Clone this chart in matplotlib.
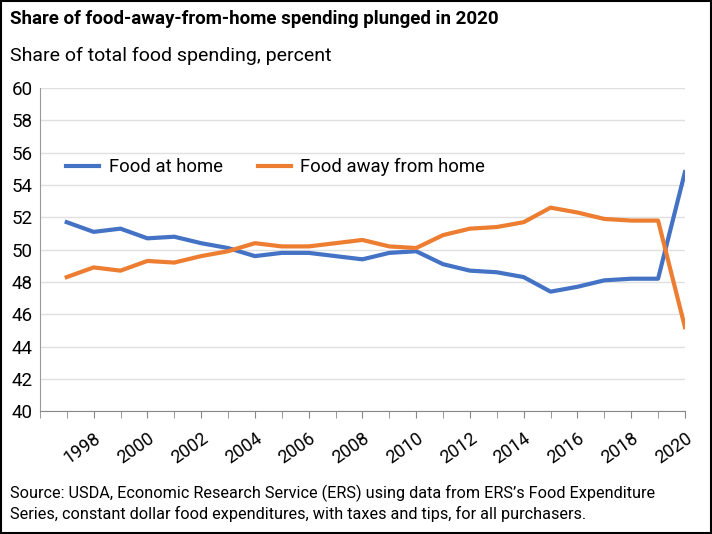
import matplotlib
matplotlib.use("Agg")
import matplotlib.pyplot as plt
from matplotlib.patches import Rectangle

# Data
years = list(range(1997, 2021))
food_at_home = [51.7, 51.1, 51.3, 50.7, 50.8, 50.4, 50.1, 49.6, 49.8, 49.8, 49.6, 49.4,
                49.8, 49.9, 49.1, 48.7, 48.6, 48.3, 47.4, 47.7, 48.1, 48.2, 48.2, 54.8]
food_away = [48.3, 48.9, 48.7, 49.3, 49.2, 49.6, 49.9, 50.4, 50.2, 50.2, 50.4, 50.6,
             50.2, 50.1, 50.9, 51.3, 51.4, 51.7, 52.6, 52.3, 51.9, 51.8, 51.8, 45.2]
tick_years = list(range(1998, 2021, 2))

plt.rcParams['font.family'] = ['Roboto', 'DejaVu Sans']

fig = plt.figure(figsize=(7.12, 5.34), dpi=100)
ax = fig.add_axes([0.056, 0.230, 0.906, 0.605])

ax.plot(years, food_at_home, color='#4472C4', lw=3, label='Food at home')
ax.plot(years, food_away, color='#ED7D31', lw=3, label='Food away from home')

ax.set_xlim(1996, 2020)
ax.set_ylim(40, 60)
ax.set_yticks(range(40, 61, 2))
ax.set_xticks(range(1996, 2021), minor=True)
ax.set_xticks(tick_years)
ax.set_xticklabels([str(y) for y in tick_years], rotation=35, ha='right', fontsize=13,
                   rotation_mode='anchor')
ax.tick_params(axis='x', which='both', direction='out', length=5, color='#888888', pad=8)
ax.tick_params(axis='y', length=0, labelsize=13.5, pad=5)
ax.grid(axis='y', color='#e0e0e0', lw=1)
for s in ['top', 'right']:
    ax.spines[s].set_visible(False)
ax.spines['left'].set_color('#999999')
ax.spines['bottom'].set_color('#888888')

ax.legend(loc='upper left', bbox_to_anchor=(0.015, 0.835), ncol=2, frameon=False,
          fontsize=13.3, handlelength=1.8, handletextpad=0.5, columnspacing=1.9)

fig.text(0.014, 0.964, 'Share of food-away-from-home spending plunged in 2020',
         fontsize=13.5, fontweight='bold', va='center')
fig.text(0.014, 0.895, 'Share of total food spending, percent', fontsize=14, va='center')
fig.text(0.014, 0.058,
         "Source: USDA, Economic Research Service (ERS) using data from ERS\u2019s Food Expenditure\n"
         "Series, constant dollar food expenditures, with taxes and tips, for all purchasers.",
         fontsize=11.7, va='center', linespacing=1.3)

fig.patches.append(Rectangle((0.001, 0.001), 0.998, 0.998, transform=fig.transFigure,
                             fill=False, edgecolor='black', lw=1.5))

fig.savefig('out.png', dpi=100)
